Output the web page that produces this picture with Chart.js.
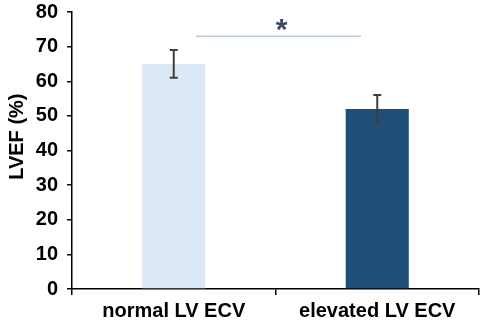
<!DOCTYPE html>
<html>
<head>
<meta charset="utf-8">
<script src="https://cdn.jsdelivr.net/npm/chart.js@4"></script>
<style>
  html, body { margin:0; padding:0; background:#fff; }
  #wrap { width:486px; height:322px; position:relative; }
</style>
</head>
<body>
<div id="wrap"><canvas id="lvefChart"></canvas></div>
<script>
const labels = ["normal LV ECV", "elevated LV ECV"];
const values = [65, 52];
const errors = [4, 4];
const yTicks = [0, 10, 20, 30, 40, 50, 60, 70, 80];
const yTitle = "LVEF (%)";

// significance bracket: value level and the star
const sigLevel = 73;
const sigText = "*";

const barColors = ["#dce8f5", "#1f4e79"];
const fontFamily = "'Liberation Sans', Arial, sans-serif";

/* ---------- error bars, significance, axis title ---------- */
const extras = {
  id: "extras",
  afterDatasetsDraw(chart) {
    const { ctx, scales: { x, y } } = chart;
    ctx.save();
    ctx.strokeStyle = "#3f3f3f";
    ctx.lineWidth = 2;
    values.forEach((v, i) => {
      const cx = x.getPixelForValue(i);
      const top = y.getPixelForValue(v + errors[i]);
      const bot = y.getPixelForValue(v - errors[i]);
      ctx.beginPath();
      ctx.moveTo(cx, top); ctx.lineTo(cx, bot);
      ctx.moveTo(cx - 4, top); ctx.lineTo(cx + 4, top);
      ctx.moveTo(cx - 4, bot); ctx.lineTo(cx + 4, bot);
      ctx.stroke();
    });

    const step = x.getPixelForValue(1) - x.getPixelForValue(0);
    const x1 = x.getPixelForValue(0) + step * 0.11;
    const x2 = x.getPixelForValue(1) - step * 0.08;
    const ly = y.getPixelForValue(sigLevel);
    ctx.strokeStyle = "#b9cbd8";
    ctx.lineWidth = 1.5;
    ctx.beginPath();
    ctx.moveTo(x1, ly); ctx.lineTo(x2, ly);
    ctx.stroke();

    ctx.fillStyle = "#3b4a5f";
    ctx.font = "bold 30px " + fontFamily;
    ctx.textAlign = "center";
    ctx.textBaseline = "middle";
    ctx.fillText(sigText, (x1 + x2) / 2 + 3, ly - 6);

    // y axis title, sits a bit above the axis middle like the original
    ctx.fillStyle = "#000";
    ctx.font = "bold 20px " + fontFamily;
    ctx.translate(17, y.getPixelForValue(44));
    ctx.rotate(-Math.PI / 2);
    ctx.fillText(yTitle, 0, 0);
    ctx.restore();
  }
};

const font = { family: fontFamily, size: 20, weight: "bold" };

new Chart(document.getElementById("lvefChart").getContext("2d"), {
  type: "bar",
  data: {
    labels,
    datasets: [{
      data: values,
      backgroundColor: barColors,
      barPercentage: 0.31,
      categoryPercentage: 1.0
    }]
  },
  options: {
    responsive: true,
    maintainAspectRatio: false,
    animation: false,
    layout: { padding: { top: 12, right: 7, left: 0, bottom: 0 } },
    plugins: { legend: { display: false }, tooltip: { enabled: false } },
    scales: {
      x: {
        offset: true,
        grid: { offset: true, drawOnChartArea: false, drawTicks: true, tickLength: 6, color: "#000", lineWidth: 1.5 },
        border: { color: "#000", width: 1.5 },
        ticks: { color: "#000", font, padding: 4 },
        afterFit: s => { s.height = 33; s.paddingLeft = 0; s.paddingRight = 0; }
      },
      y: {
        min: 0, max: 80,
        afterBuildTicks: s => { s.ticks = yTicks.map(v => ({ value: v })); },
        grid: { drawOnChartArea: false, drawTicks: true, tickLength: 5, color: "#000", lineWidth: 1.5 },
        border: { color: "#000", width: 1.5 },
        ticks: { color: "#000", font, padding: 9 },
        afterFit: s => { s.width = 72; s.paddingTop = 0; s.paddingBottom = 0; }
      }
    }
  },
  plugins: [extras]
});
</script>
</body>
</html>
